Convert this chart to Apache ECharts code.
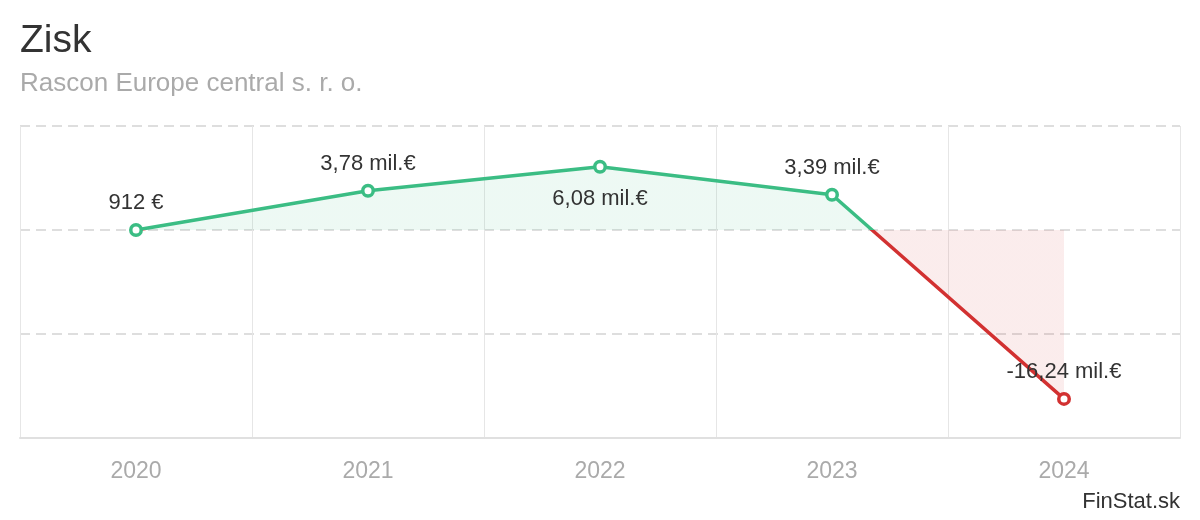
<!DOCTYPE html>
<html><head><meta charset="utf-8">
<script src="https://cdn.jsdelivr.net/npm/echarts@6/dist/echarts.min.js"></script>
<style>html,body{margin:0;padding:0;background:#fff}#c{width:1200px;height:520px}</style>
</head><body><div id="c"></div>
<script>
var years = ['2020', '2021', '2022', '2023', '2024'];
var profit = [912, 3780000, 6080000, 3390000, -16240000];
var labelTexts = ['912 €', '3,78 mil.€', '6,08 mil.€', '3,39 mil.€', '-16,24 mil.€'];
var labelPositions = ['top', 'top', 'bottom', 'top', 'top'];
var yMin = -20000000, yMax = 10000000, yStep = 10000000;

var GREEN = '#3bbd84', RED = '#d23131';
var chart = echarts.init(document.getElementById('c'), null, {renderer: 'canvas'});
var font = '"Liberation Sans", Arial, Helvetica, sans-serif';
chart.setOption({
  animation: false,
  textStyle: {fontFamily: font},
  title: [
    {text: 'Zisk', left: 15, top: 17,
     textStyle: {fontSize: 39, fontWeight: 'normal', color: '#333', fontFamily: font}},
    {text: 'Rascon Europe central s. r. o.', left: 15, top: 66,
     textStyle: {fontSize: 26, fontWeight: 'normal', color: '#aaa', fontFamily: font}},
    {text: 'FinStat.sk', right: 15, top: 486,
     textStyle: {fontSize: 22, fontWeight: 'normal', color: '#333', fontFamily: font}}
  ],
  grid: {left: 20, right: 20, top: 126, bottom: 82, containLabel: false},
  visualMap: {show: false, dimension: 1, seriesIndex: 0,
    pieces: [{min: 0, max: 1000000000, color: GREEN}, {min: -1000000000, max: 0, color: RED}]},
  xAxis: {type: 'category', data: years, boundaryGap: true,
    axisLine: {show: true, onZero: false, lineStyle: {color: '#e0e0e0', width: 2}},
    axisTick: {show: false},
    axisLabel: {color: '#aaa', fontSize: 23, margin: 22, fontFamily: font},
    splitLine: {show: true, lineStyle: {color: '#e6e6e6', width: 1}}},
  yAxis: {type: 'value', min: yMin, max: yMax, interval: yStep,
    axisLine: {show: false}, axisTick: {show: false}, axisLabel: {show: false},
    splitLine: {show: true, lineStyle: {color: '#dedede', type: [10, 6], width: 2}}},
  series: [{
    type: 'line',
    data: profit.map(function (v, i) { return [years[i], v]; }),
    showSymbol: false,
    lineStyle: {width: 3.5},
    areaStyle: {opacity: 0.09},
    z: 2
  }, {
    type: 'scatter',
    data: profit.map(function (v, i) {
      return {value: [years[i], v],
        itemStyle: {borderColor: v >= 0 ? GREEN : RED},
        label: {position: labelPositions[i], formatter: labelTexts[i],
          distance: labelPositions[i] === 'bottom' ? 14 : 9}};
    }),
    symbol: 'circle', symbolSize: 10.5,
    itemStyle: {color: '#fff', borderWidth: 3.5, opacity: 1},
    label: {show: true, fontSize: 22, color: '#333', fontFamily: font},
    z: 3
  }]
});
</script></body></html>
